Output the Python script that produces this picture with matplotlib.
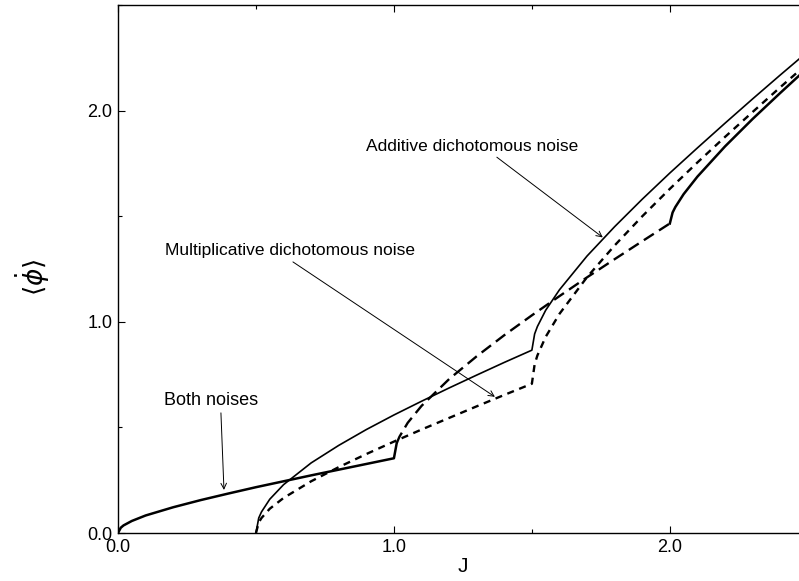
import matplotlib
matplotlib.use("Agg")
import matplotlib.pyplot as plt
from matplotlib.ticker import MultipleLocator, FormatStrFormatter

plt.rcParams["font.family"] = ["Liberation Sans", "DejaVu Sans"]

# additive dichotomous noise (thin solid)
J_add = [0.5, 0.51, 0.52, 0.55, 0.6, 0.7, 0.8, 0.9, 1.0, 1.1, 1.2, 1.3, 1.4, 1.5,
         1.51, 1.52, 1.55, 1.6, 1.7, 1.8, 1.9, 2.0, 2.1, 2.2, 2.3, 2.4, 2.5]
v_add = [0.0, 0.071, 0.100, 0.160, 0.229, 0.332, 0.415, 0.490, 0.559, 0.624, 0.687,
         0.748, 0.808, 0.866, 0.943, 0.978, 1.055, 1.152, 1.312, 1.451, 1.581, 1.705,
         1.824, 1.941, 2.056, 2.169, 2.280]

# multiplicative dichotomous noise (short dashes)
J_mul = [0.5, 0.51, 0.52, 0.55, 0.6, 0.7, 0.8, 0.9, 1.0, 1.1, 1.2, 1.3, 1.4, 1.5,
         1.51, 1.52, 1.55, 1.6, 1.7, 1.8, 1.9, 2.0, 2.1, 2.2, 2.3, 2.4, 2.5]
v_mul = [0.0, 0.050, 0.071, 0.115, 0.166, 0.245, 0.312, 0.374, 0.433, 0.490, 0.545,
         0.600, 0.654, 0.707, 0.799, 0.841, 0.929, 1.038, 1.212, 1.362, 1.500, 1.630,
         1.755, 1.876, 1.994, 2.111, 2.225]

# both noises, three pieces
J_both1 = [0.0, 0.01, 0.02, 0.05, 0.1, 0.2, 0.3, 0.4, 0.5, 0.6, 0.7, 0.8, 0.9, 1.0, 1.01]
v_both1 = [0.0, 0.025, 0.036, 0.057, 0.083, 0.122, 0.156, 0.187, 0.217, 0.245, 0.273,
           0.300, 0.327, 0.354, 0.425]
J_both2 = [1.01, 1.02, 1.05, 1.1, 1.2, 1.3, 1.4, 1.5, 1.6, 1.7, 1.8, 1.9, 2.0]
v_both2 = [0.425, 0.456, 0.522, 0.602, 0.729, 0.837, 0.937, 1.031, 1.122, 1.211,
           1.297, 1.382, 1.466]
J_both3 = [2.0, 2.01, 2.02, 2.05, 2.1, 2.2, 2.3, 2.4, 2.5]
v_both3 = [1.466, 1.518, 1.544, 1.605, 1.688, 1.831, 1.961, 2.084, 2.204]

fig = plt.figure(figsize=(7.99, 5.81), dpi=100)
ax = fig.add_axes([0.1477, 0.0826, 0.8633, 0.9085])

ax.plot(J_add, v_add, color="black", lw=1.2)
ax.plot(J_mul, v_mul, color="black", lw=1.7, dashes=(3, 2.4))
ax.plot(J_both1, v_both1, color="black", lw=1.8)
ax.plot(J_both2, v_both2, color="black", lw=1.7, dashes=(5, 2.6))
ax.plot(J_both3, v_both3, color="black", lw=1.8)

arrow = dict(arrowstyle="->", color="black", lw=0.7, shrinkA=0, shrinkB=0)
ax.text(1.283, 1.83, "Additive dichotomous noise", fontsize=12.5, ha="center", va="center")
ax.annotate("", xy=(1.757, 1.40), xytext=(1.373, 1.78), arrowprops=arrow)
ax.text(0.623, 1.34, "Multiplicative dichotomous noise", fontsize=12.5, ha="center", va="center")
ax.annotate("", xy=(1.366, 0.645), xytext=(0.634, 1.284), arrowprops=arrow)
ax.text(0.337, 0.628, "Both noises", fontsize=13, ha="center", va="center")
ax.annotate("", xy=(0.384, 0.204), xytext=(0.373, 0.569), arrowprops=arrow)

ax.set_xlim(0, 2.5)
ax.set_ylim(0, 2.5)
ax.xaxis.set_major_locator(MultipleLocator(1.0))
ax.xaxis.set_minor_locator(MultipleLocator(0.5))
ax.yaxis.set_major_locator(MultipleLocator(1.0))
ax.yaxis.set_minor_locator(MultipleLocator(0.5))
ax.xaxis.set_major_formatter(FormatStrFormatter("%.1f"))
ax.yaxis.set_major_formatter(FormatStrFormatter("%.1f"))
ax.tick_params(which="both", direction="in", top=True, right=True, labelsize=13,
               width=0.8)
ax.tick_params(which="major", length=5, pad=4)
ax.tick_params(which="minor", length=3)
for s in ax.spines.values():
    s.set_linewidth(1.0)

ax.set_xlabel("J", fontsize=15, labelpad=1)
ax.set_ylabel(r"$\langle\dot{\phi}\rangle$", fontsize=19)
ax.yaxis.label.set_va("center")
ax.yaxis.set_label_coords(-0.123, 0.485)

fig.savefig("out.png", dpi=100)
